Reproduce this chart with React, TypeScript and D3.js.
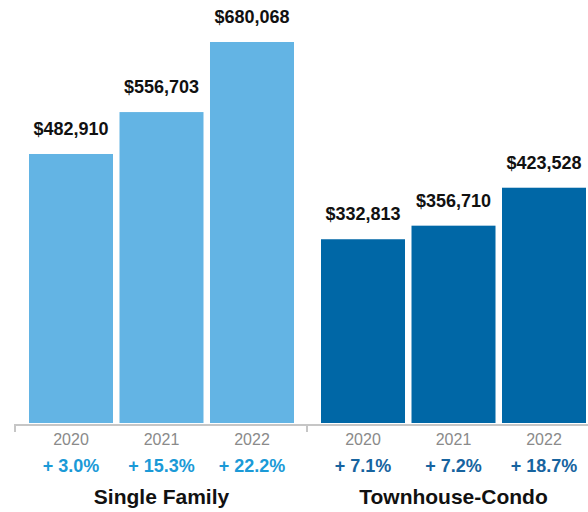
import React from "react";
import * as d3 from "d3";

const groups = ["Single Family", "Townhouse-Condo"];
const years = ["2020", "2021", "2022"];
const singleFamily = [482910, 556703, 680068];
const townhouseCondo = [332813, 356710, 423528];
const sfChanges = ["+ 3.0%", "+ 15.3%", "+ 22.2%"];
const tcChanges = ["+ 7.1%", "+ 7.2%", "+ 18.7%"];

const seriesValues = [singleFamily, townhouseCondo];
const seriesChanges = [sfChanges, tcChanges];
const barColors = ["#63b4e4", "#0067a6"];
const pctColors = ["#1b9ad7", "#17649f"];

const W = 588;
const H = 512;
const FONT = "'Liberation Sans', Arial, Helvetica, sans-serif";

export default function App() {
  const x0 = d3.scaleBand<string>().domain(groups).range([29, 586]).paddingInner(0.0925).paddingOuter(0);
  const x1 = d3.scaleBand<string>().domain(years).range([0, x0.bandwidth()]).paddingInner(0.0718).paddingOuter(0);
  const y = d3.scaleLinear().domain([0, 680068]).range([428.3, 42]);
  const base = 423;
  const fmt = d3.format("$,");
  const axisY = 425;

  return (
    <svg width={W} height={H} style={{ position: "absolute", left: 0, top: 0, fontFamily: FONT }}>
      {groups.map((g, gi) => {
        const gx = x0(g)!;
        return (
          <g key={g}>
            {years.map((yr, i) => {
              const v = seriesValues[gi][i];
              const bx = gx + x1(yr)!;
              const cx = bx + x1.bandwidth() / 2;
              return (
                <g key={yr}>
                  <rect x={bx} y={y(v)} width={x1.bandwidth()} height={base - y(v)} fill={barColors[gi]} />
                  <text x={cx} y={y(v) - 19} textAnchor="middle" fontSize={18} fontWeight="bold" fill="#111">
                    {fmt(v)}
                  </text>
                  <text x={cx} y={445} textAnchor="middle" fontSize={16} fill="#8a8a8a">
                    {yr}
                  </text>
                  <text x={cx} y={472} textAnchor="middle" fontSize={18} fontWeight="bold" fill={pctColors[gi]}>
                    {seriesChanges[gi][i]}
                  </text>
                </g>
              );
            })}
            <text x={gx + x0.bandwidth() / 2} y={504} textAnchor="middle" fontSize={21} fontWeight="bold" fill="#111">
              {g}
            </text>
          </g>
        );
      })}
      <line x1={15} x2={588} y1={axisY} y2={axisY} stroke="#c6c6c6" strokeWidth={2} />
      {[15, 307].map((tx) => (
        <line key={tx} x1={tx} x2={tx} y1={axisY - 1} y2={432} stroke="#c6c6c6" strokeWidth={2} />
      ))}
    </svg>
  );
}
